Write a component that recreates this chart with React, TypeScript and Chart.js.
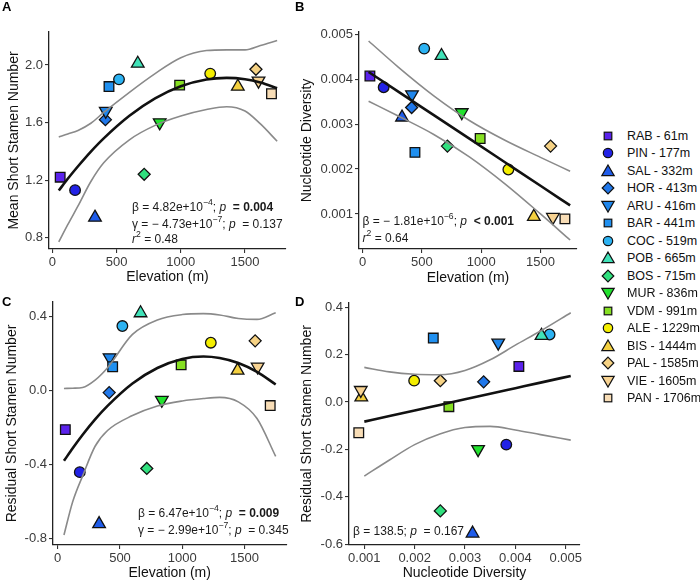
import React, { useEffect, useRef } from 'react';
import { Chart, registerables } from 'chart.js';

Chart.register(...registerables);

const FONT = "'Liberation Sans', Arial, Helvetica, sans-serif";

// ---------- data ----------
const POPULATIONS = ['RAB', 'PIN', 'SAL', 'HOR', 'ARU', 'BAR', 'COC', 'POB', 'BOS', 'MUR', 'VDM', 'ALE', 'BIS', 'PAL', 'VIE', 'PAN'];
const ELEVATION_M = [61, 177, 332, 413, 416, 441, 519, 665, 715, 836, 991, 1229, 1444, 1585, 1605, 1706];
const SHAPES = ['square', 'circle', 'triangle', 'diamond', 'down', 'square', 'circle', 'triangle', 'diamond', 'down', 'square', 'circle', 'triangle', 'diamond', 'down', 'square'];
const COLORS = ['#5B22EC', '#2222E6', '#1F5CEA', '#2178EA', '#1E86EC', '#2090F0', '#2CB2F2', '#40E2B8', '#30E07E', '#22E22E', '#86E022', '#F4EE00', '#F4D040', '#F6D284', '#F8D392', '#F8DDB6'];

const MEAN_SHORT_STAMEN = [1.22, 1.13, 0.94, 1.62, 1.68, 1.85, 1.90, 2.01, 1.24, 1.60, 1.86, 1.94, 1.85, 1.97, 1.89, 1.80];
const NUCLEOTIDE_DIVERSITY = [0.00407, 0.00382, 0.00315, 0.00337, 0.00366, 0.00237, 0.00468, 0.00452, 0.00251, 0.00326, 0.00268, 0.00199, 0.00094, 0.00251, 0.00093, 0.00089];
const RESIDUAL_VS_ELEV = [-0.21, -0.44, -0.72, -0.01, 0.18, 0.13, 0.35, 0.42, -0.42, -0.05, 0.14, 0.26, 0.11, 0.27, 0.13, -0.08];
const RESIDUAL_VS_DIV = [0.15, -0.18, -0.555, 0.085, 0.25, 0.27, 0.285, 0.28, -0.46, -0.20, -0.02, 0.09, 0.02, 0.09, 0.05, -0.13];

// fitted curves + 95% bands
const A_CURVE_X = [50, 120, 200, 300, 400, 600, 800, 1000, 1200, 1357, 1500, 1620, 1750];
const A_FIT = [1.127, 1.209, 1.296, 1.398, 1.490, 1.647, 1.768, 1.852, 1.899, 1.910, 1.901, 1.878, 1.839];
const A_UPPER = [1.50, 1.52, 1.545, 1.595, 1.67, 1.81, 1.94, 2.05, 2.10, 2.105, 2.105, 2.135, 2.17];
const A_LOWER = [0.77, 0.89, 1.02, 1.19, 1.32, 1.48, 1.58, 1.645, 1.69, 1.71, 1.68, 1.59, 1.47];

const B_CURVE_X = [50, 300, 600, 900, 1200, 1500, 1750];
const B_FIT = [0.00416, 0.003723, 0.003199, 0.002675, 0.002151, 0.001627, 0.00119];
const B_UPPER = [0.00485, 0.00427, 0.00363, 0.00308, 0.00264, 0.00226, 0.00195];
const B_LOWER = [0.00351, 0.00318, 0.00277, 0.00227, 0.00167, 0.00100, 0.00042];

const C_CURVE_X = [50, 120, 200, 300, 400, 600, 800, 1000, 1170, 1300, 1450, 1600, 1750];
const C_FIT = [-0.379, -0.311, -0.238, -0.155, -0.082, 0.039, 0.123, 0.172, 0.185, 0.177, 0.150, 0.102, 0.034];
const C_UPPER = [0.012, 0.014, 0.018, 0.058, 0.125, 0.305, 0.383, 0.412, 0.417, 0.410, 0.391, 0.386, 0.422];
const C_LOWER = [-0.78, -0.60, -0.46, -0.30, -0.215, -0.134, -0.082, -0.055, -0.042, -0.036, -0.06, -0.15, -0.355];

const D_CURVE_X = [0.001, 0.0015, 0.002, 0.0025, 0.003, 0.0035, 0.004, 0.0045, 0.0051];
const D_FIT = [-0.083, -0.0595, -0.0359, -0.0124, 0.0111, 0.0347, 0.0582, 0.0817, 0.110];
const D_UPPER = [0.146, 0.127, 0.117, 0.115, 0.133, 0.178, 0.240, 0.300, 0.377];
const D_LOWER = [-0.313, -0.245, -0.18, -0.135, -0.108, -0.103, -0.118, -0.138, -0.161];

// ticks
const ELEV_TICKS = [0, 500, 1000, 1500];
const A_Y_TICKS = [0.8, 1.2, 1.6, 2.0];
const DIV_TICKS = [0.001, 0.002, 0.003, 0.004, 0.005];
const C_Y_TICKS = [-0.8, -0.4, 0.0, 0.4];
const D_Y_TICKS = [-0.6, -0.4, -0.2, 0.0, 0.2, 0.4];

// annotation texts
type Seg = { t: string; s?: 'i' | 'b'; sup?: boolean };
const A_NOTE: Seg[][] = [
  [{ t: 'β = 4.82e+10' }, { t: '−4', sup: true }, { t: '; ' }, { t: 'p', s: 'i' }, { t: ' ' }, { t: ' = 0.004', s: 'b' }],
  [{ t: 'γ = − 4.73e+10' }, { t: '−7', sup: true }, { t: '; ' }, { t: 'p', s: 'i' }, { t: '  = 0.137' }],
  [{ t: 'r', s: 'i' }, { t: '2', sup: true }, { t: ' = 0.48' }],
];
const B_NOTE: Seg[][] = [
  [{ t: 'β = − 1.81e+10' }, { t: '−6', sup: true }, { t: '; ' }, { t: 'p', s: 'i' }, { t: ' ' }, { t: ' < 0.001', s: 'b' }],
  [{ t: 'r', s: 'i' }, { t: '2', sup: true }, { t: ' = 0.64' }],
];
const C_NOTE: Seg[][] = [
  [{ t: 'β = 6.47e+10' }, { t: '−4', sup: true }, { t: '; ' }, { t: 'p', s: 'i' }, { t: ' ' }, { t: ' = 0.009', s: 'b' }],
  [{ t: 'γ = − 2.99e+10' }, { t: '−7', sup: true }, { t: '; ' }, { t: 'p', s: 'i' }, { t: '  = 0.345' }],
];
const D_NOTE: Seg[][] = [
  [{ t: 'β = 138.5; ' }, { t: 'p', s: 'i' }, { t: '  = 0.167' }],
];

// ---------- helpers ----------
function drawRich(ctx: CanvasRenderingContext2D, x: number, y: number, segs: Seg[], size: number) {
  let cx = x;
  for (const seg of segs) {
    const fs = seg.sup ? size * 0.72 : size;
    const style = seg.s === 'i' ? 'italic ' : seg.s === 'b' ? 'bold ' : '';
    ctx.font = `${style}${fs}px ${FONT}`;
    ctx.fillText(seg.t, cx, seg.sup ? y - size * 0.42 : y);
    cx += ctx.measureText(seg.t).width;
  }
}

const styleOf = (s: string) => (s === 'square' ? 'rect' : s === 'circle' ? 'circle' : s === 'diamond' ? 'rectRot' : 'triangle');
const radiusOf = (s: string) => (s === 'square' ? 6.8 : s === 'circle' ? 5.3 : s === 'diamond' ? 6.0 : 7.3);

interface PanelProps {
  xs: number[]; ys: number[];
  cx: number[]; fit: number[]; up: number[]; lo: number[];
  xMin: number; xMax: number; yMin: number; yMax: number;
  xTicks: number[]; yTicks: number[]; xDigits: number; yDigits: number;
  xTitle: string; yTitle: string;
  note: Seg[][];
  lay: { left: number; top: number; width: number; height: number; pad: { left: number; top: number; right: number; bottom: number }; yW: number; xH: number; yTP: number; xTP: number; nx: number; ny: number[] };
}

function Panel(p: PanelProps) {
  const ref = useRef<HTMLCanvasElement | null>(null);
  useEffect(() => {
    if (!ref.current) return;
    const curve = (vals: number[], color: string, w: number) => ({
      data: p.cx.map((x, i) => ({ x, y: vals[i] })),
      showLine: true,
      borderColor: color,
      borderWidth: w,
      pointRadius: 0,
      cubicInterpolationMode: 'monotone',
      fill: false,
    });
    const noteSize = 12;
    const notePlugin = {
      id: 'note',
      afterDatasetsDraw(chart: any) {
        const { ctx, chartArea } = chart;
        ctx.save();
        ctx.fillStyle = '#1a1a1a';
        ctx.textBaseline = 'middle';
        ctx.textAlign = 'left';
        p.note.forEach((segs, i) => drawRich(ctx, chartArea.left + p.lay.nx, chartArea.bottom + p.lay.ny[i], segs, noteSize));
        ctx.restore();
      },
    };
    const axisCommon = {
      type: 'linear',
      grid: { display: true, drawOnChartArea: false, drawTicks: true, tickLength: 4, color: '#333', lineWidth: 1.1 },
      border: { display: true, color: '#222', width: 1.3 },
    };
    const chart = new Chart(ref.current, {
      type: 'scatter',
      data: {
        datasets: [
          curve(p.fit, '#111111', 2.6),
          curve(p.up, '#8a8a8a', 1.6),
          curve(p.lo, '#8a8a8a', 1.6),
          {
            data: p.xs.map((x, i) => ({ x, y: p.ys[i] })),
            pointStyle: SHAPES.map(styleOf),
            pointRotation: SHAPES.map((s) => (s === 'down' ? 180 : 0)),
            pointRadius: SHAPES.map(radiusOf),
            pointBackgroundColor: COLORS,
            pointBorderColor: '#111',
            pointBorderWidth: 1.3,
            showLine: false,
          },
        ] as any,
      },
      options: {
        animation: false,
        responsive: false,
        events: [],
        layout: { padding: p.lay.pad },
        plugins: { legend: { display: false }, tooltip: { enabled: false } },
        scales: {
          x: {
            ...axisCommon,
            min: p.xMin,
            max: p.xMax,
            afterBuildTicks: (s: any) => { s.ticks = p.xTicks.map((v) => ({ value: v })); },
            afterFit: (s: any) => { s.height = p.lay.xH; },
            ticks: { autoSkip: false, maxRotation: 0, padding: 2, color: '#3a3a3a', font: { family: FONT, size: 13 }, callback: (v: any) => Number(v).toFixed(p.xDigits) },
            title: { display: true, text: p.xTitle, color: '#111', font: { family: FONT, size: 14 }, padding: { top: 0, bottom: p.lay.xTP } },
          },
          y: {
            ...axisCommon,
            min: p.yMin,
            max: p.yMax,
            afterBuildTicks: (s: any) => { s.ticks = p.yTicks.map((v) => ({ value: v })); },
            afterFit: (s: any) => { s.width = p.lay.yW; },
            ticks: { autoSkip: false, padding: 2, color: '#3a3a3a', font: { family: FONT, size: 13 }, callback: (v: any) => Number(v).toFixed(p.yDigits) },
            title: { display: true, text: p.yTitle, color: '#111', font: { family: FONT, size: 14 }, padding: { top: p.lay.yTP, bottom: 0 } },
          },
        },
      } as any,
      plugins: [notePlugin],
    });
    return () => chart.destroy();
  }, []);
  return (
    <canvas
      ref={ref}
      width={p.lay.width}
      height={p.lay.height}
      style={{ position: 'absolute', left: p.lay.left, top: p.lay.top, width: p.lay.width, height: p.lay.height }}
    />
  );
}

function LegendSymbol({ shape, color }: { shape: string; color: string }) {
  const st = { fill: color, stroke: '#111', strokeWidth: 1.2 };
  let el: any;
  if (shape === 'square') el = <rect x={4.2} y={4.2} width={7.6} height={7.6} {...st} />;
  else if (shape === 'circle') el = <circle cx={8} cy={8} r={4.7} {...st} />;
  else if (shape === 'triangle') el = <polygon points="8,2 14.2,12.6 1.8,12.6" {...st} />;
  else if (shape === 'diamond') el = <polygon points="8,2.2 13.8,8 8,13.8 2.2,8" {...st} />;
  else el = <polygon points="1.8,3.4 14.2,3.4 8,14" {...st} />;
  return (
    <svg width={16} height={16} style={{ display: 'block' }}>
      {el}
    </svg>
  );
}

const LAYOUT = {
  A: { left: 0, top: 0, width: 295, height: 290, pad: { left: 0, top: 32, right: 9, bottom: 0 }, yW: 49, xH: 41, yTP: 5.6, xTP: 4.6, nx: 83, ny: [-41, -24.5, -9.5] },
  B: { left: 295, top: 0, width: 305, height: 290, pad: { left: 0, top: 32, right: 23, bottom: 0 }, yW: 64, xH: 41, yTP: 3.6, xTP: 3.6, nx: 3.5, ny: [-27, -10.7] },
  C: { left: 0, top: 290, width: 295, height: 292, pad: { left: 0, top: 12, right: 8, bottom: 0 }, yW: 53, xH: 37, yTP: 4.1, xTP: 0.6, nx: 85, ny: [-31, -14] },
  D: { left: 295, top: 290, width: 305, height: 292, pad: { left: 0, top: 13, right: 20, bottom: 0 }, yW: 54, xH: 37, yTP: 3.6, xTP: 0, nx: 4, ny: [-13] },
};

export default function App() {
  const letter = (t: string, left: number, top: number) => (
    <div style={{ position: 'absolute', left, top, fontFamily: FONT, fontWeight: 'bold', fontSize: 13, lineHeight: '13px', color: '#000' }}>{t}</div>
  );
  return (
    <div style={{ position: 'absolute', left: 0, top: 0, width: 700, height: 582, background: '#fff', overflow: 'hidden' }}>
      <Panel xs={ELEVATION_M} ys={MEAN_SHORT_STAMEN} cx={A_CURVE_X} fit={A_FIT} up={A_UPPER} lo={A_LOWER}
        xMin={-26} xMax={1819} yMin={0.721} yMax={2.229} xTicks={ELEV_TICKS} yTicks={A_Y_TICKS} xDigits={0} yDigits={1}
        xTitle="Elevation (m)" yTitle="Mean Short Stamen Number" note={A_NOTE} lay={LAYOUT.A} />
      <Panel xs={ELEVATION_M} ys={NUCLEOTIDE_DIVERSITY} cx={B_CURVE_X} fit={B_FIT} up={B_UPPER} lo={B_LOWER}
        xMin={-31} xMax={1808} yMin={0.00022} yMax={0.00505} xTicks={ELEV_TICKS} yTicks={DIV_TICKS} xDigits={0} yDigits={3}
        xTitle="Elevation (m)" yTitle="Nucleotide Diversity" note={B_NOTE} lay={LAYOUT.B} />
      <Panel xs={ELEVATION_M} ys={RESIDUAL_VS_ELEV} cx={C_CURVE_X} fit={C_FIT} up={C_UPPER} lo={C_LOWER}
        xMin={-38} xMax={1836} yMin={-0.834} yMax={0.48} xTicks={ELEV_TICKS} yTicks={C_Y_TICKS} xDigits={0} yDigits={1}
        xTitle="Elevation (m)" yTitle="Residual Short Stamen Number" note={C_NOTE} lay={LAYOUT.C} />
      <Panel xs={NUCLEOTIDE_DIVERSITY} ys={RESIDUAL_VS_DIV} cx={D_CURVE_X} fit={D_FIT} up={D_UPPER} lo={D_LOWER}
        xMin={0.000696} xMax={0.005284} yMin={-0.604} yMax={0.418} xTicks={DIV_TICKS} yTicks={D_Y_TICKS} xDigits={3} yDigits={1}
        xTitle="Nucleotide Diversity" yTitle="Residual Short Stamen Number" note={D_NOTE} lay={LAYOUT.D} />
      {letter('A', 2, 0)}
      {letter('B', 295, 0)}
      {letter('C', 2, 295)}
      {letter('D', 295, 295)}
      {POPULATIONS.map((name, i) => (
        <div key={name} style={{ position: 'absolute', left: 600, top: 127 + i * 17.5, height: 17.5, display: 'flex', alignItems: 'center' }}>
          <LegendSymbol shape={SHAPES[i]} color={COLORS[i]} />
          <span style={{ marginLeft: 11, fontFamily: FONT, fontSize: 12.5, color: '#111', whiteSpace: 'nowrap' }}>
            {`${name} - ${ELEVATION_M[i]}m`}
          </span>
        </div>
      ))}
    </div>
  );
}
